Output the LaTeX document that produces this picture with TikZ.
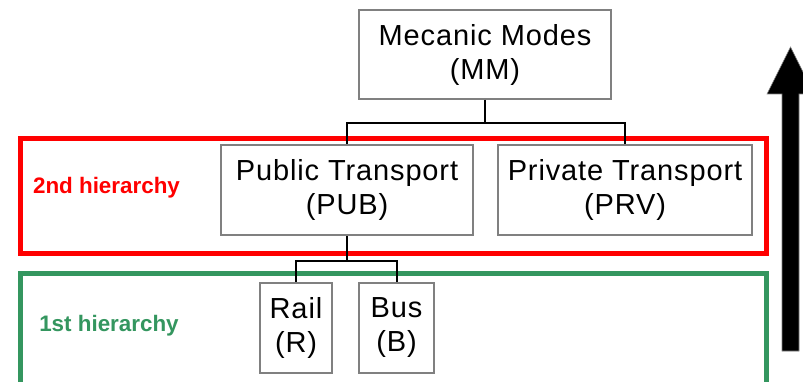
\documentclass[tikz,border=0pt]{standalone}
\usepackage{fontspec}
\setmainfont{Liberation Sans}
\newfontfamily\modefont[LetterSpace=3]{Liberation Sans}
\usetikzlibrary{calc}
\definecolor{boxgray}{RGB}{128,128,128}
\definecolor{tierred}{RGB}{255,0,0}
\definecolor{tiergreen}{RGB}{52,150,95}
\tikzset{
  mode/.style={draw=boxgray, line width=2pt, fill=white, inner sep=0pt,
    align=center, font=\modefont\fontsize{29}{34}\selectfont},
  link/.style={draw=black, line width=2pt},
  tier/.style={line width=5pt},
  tierlabel/.style={font=\bfseries\fontsize{22.4}{25}\selectfont, inner sep=0pt}
}
\begin{document}
\begin{tikzpicture}[x=1pt, y=-1pt]
  \clip (0,0) rectangle (803,382);
  \fill[white] (0,0) rectangle (803,382);

  % hierarchy frames
  \draw[tier, draw=tierred] (20,138.5) rectangle (766,253);
  \draw[tier, draw=tiergreen] (20,273.5) rectangle (766,420);
  \node[tierlabel, text=tierred] (lab2) at (106.5,188) {2nd hierarchy};
  \node[tierlabel, text=tiergreen] (lab1) at (109,326) {1st hierarchy};

  % mode tree
  \node[mode, minimum width=252pt, minimum height=89pt] (mm) at (485,54.5) {Mecanic Modes\\(MM)};
  \node[mode, minimum width=252pt, minimum height=90pt] (pub) at (347,190) {Public Transport\\(PUB)};
  \node[mode, minimum width=254pt, minimum height=90pt] (prv) at (625,190) {Private Transport\\(PRV)};
  \node[mode, minimum width=72pt, minimum height=90pt] (rail) at (296,328) {Rail\\(R)};
  \node[mode, minimum width=75pt, minimum height=90pt] (bus) at (396.5,328) {Bus\\(B)};

  \draw[link] (mm.south) -- ++(0,23) -| (pub.north);
  \draw[link] (mm.south) -- ++(0,23) -| (prv.north);
  \draw[link] (pub.south) -- ++(0,25) -| (rail.north);
  \draw[link] (pub.south) -- ++(0,25) -| (bus.north);

  % upward arrow
  \coordinate (abot) at (790.5,351);
  \coordinate (atip) at (790.5,47);
  \filldraw[fill=black, draw=boxgray, line width=0.6pt]
    ($(abot)+(-8.5,0)$) -- ($(atip)+(-8.5,47)$) -- ($(atip)+(-23.5,47)$) -- (atip)
    -- ($(atip)+(23.5,47)$) -- ($(atip)+(8.5,47)$) -- ($(abot)+(8.5,0)$) -- cycle;
\end{tikzpicture}
\end{document}
